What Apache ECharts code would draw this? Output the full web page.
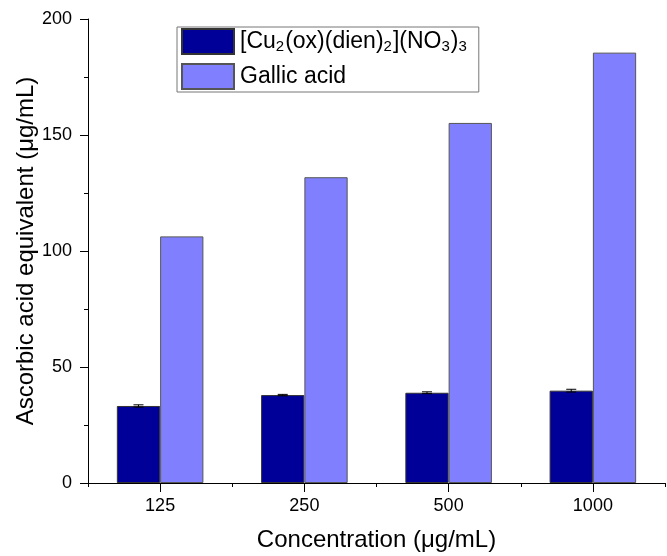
<!DOCTYPE html>
<html>
<head>
<meta charset="utf-8">
<script src="https://cdn.jsdelivr.net/npm/echarts@6/dist/echarts.min.js"></script>
<style>
html,body{margin:0;padding:0;background:#fff;}
#chart{width:667px;height:556px;}
</style>
</head>
<body>
<div id="chart"></div>
<script>
const categories = ['125', '250', '500', '1000'];
const cuName = '[Cu2(ox)(dien)2](NO3)3';
const gallicName = 'Gallic acid';
const cuValues = [33.2, 37.9, 38.9, 39.8];
const cuErrors = [0.5, 0.3, 0.4, 0.6];
const gallicValues = [106.3, 131.8, 155.2, 185.5];
const yTicks = [0, 50, 100, 150, 200];

const FONT = '"Liberation Sans", Arial, sans-serif';
const errData = cuValues.map((v, i) => [i, v, cuErrors[i]]);

const chart = echarts.init(document.getElementById('chart'), null, {renderer: 'canvas'});
chart.setOption({
  animation: false,
  backgroundColor: '#fff',
  textStyle: {fontFamily: FONT},
  grid: {left: 88, right: 2, top: 19, bottom: 73, containLabel: false, outerBoundsMode: 'none'},
  legend: {
    data: [cuName, gallicName],
    orient: 'vertical',
    left: 177,
    top: 27,
    padding: [1, 12, 2, 4],
    itemGap: 8,
    itemWidth: 52,
    itemHeight: 25,
    borderColor: '#777',
    borderWidth: 1,
    icon: 'rect',
    formatter: function (name) {
      if (name === cuName) {
        return '{n|[Cu}{s|2}{n|(ox)(dien)}{s|2}{n|](NO}{s|3}{n|)}{s|3}';
      }
      return '{n|' + name + '}';
    },
    textStyle: {
      fontFamily: FONT,
      color: '#000',
      rich: {
        n: {fontSize: 23, lineHeight: 26, fontFamily: FONT, color: '#000', padding: [0, 0, 0, 1]},
        s: {fontSize: 15, lineHeight: 8, verticalAlign: 'bottom', fontFamily: FONT, color: '#000'}
      }
    }
  },
  xAxis: [
    {
      type: 'category',
      data: categories,
      position: 'bottom',
      name: 'Concentration (μg/mL)',
      nameLocation: 'middle',
      nameGap: 45,
      nameMoveOverlap: false,
      nameTextStyle: {fontSize: 24, color: '#000', fontFamily: FONT},
      axisLine: {show: true, lineStyle: {color: '#000', width: 1}},
      axisTick: {show: true, alignWithLabel: true, length: 9, lineStyle: {color: '#000'}},
      axisLabel: {fontSize: 18, color: '#000', margin: 14, fontFamily: FONT},
      splitLine: {show: false}
    },
    {
      type: 'category',
      data: categories,
      position: 'bottom',
      axisLine: {show: false},
      axisTick: {show: true, alignWithLabel: false, length: 4, lineStyle: {color: '#000'}},
      axisLabel: {show: false},
      splitLine: {show: false}
    }
  ],
  yAxis: {
    type: 'value',
    min: yTicks[0],
    max: yTicks[yTicks.length - 1],
    interval: 50,
    name: 'Ascorbic acid equivalent (μg/mL)',
    nameLocation: 'middle',
    nameGap: 50,
    nameMoveOverlap: false,
    nameTextStyle: {fontSize: 24, color: '#000', fontFamily: FONT},
    axisLine: {show: true, lineStyle: {color: '#000', width: 1}},
    axisTick: {show: true, length: 8, lineStyle: {color: '#000'}},
    minorTick: {show: true, splitNumber: 2, length: 4, lineStyle: {color: '#000'}},
    axisLabel: {fontSize: 18, color: '#000', margin: 16, fontFamily: FONT},
    splitLine: {show: false}
  },
  series: [
    {
      name: cuName,
      type: 'bar',
      xAxisIndex: 0,
      data: cuValues,
      barWidth: '30%',
      barGap: '0%',
      itemStyle: {color: '#000099', borderColor: '#333', borderWidth: 1}
    },
    {
      name: gallicName,
      type: 'bar',
      xAxisIndex: 0,
      data: gallicValues,
      barWidth: '30%',
      barGap: '0%',
      itemStyle: {color: '#8080FF', borderColor: '#555', borderWidth: 1}
    },
    {
      type: 'custom',
      xAxisIndex: 0,
      data: errData,
      encode: {x: 0, y: 1},
      z: 10,
      renderItem: function (params, api) {
        const idx = api.value(0);
        const v = api.value(1);
        const e = api.value(2);
        const w = api.size([1, 0])[0] * 0.3;
        const top = api.coord([idx, v + e]);
        const bot = api.coord([idx, v - e]);
        const cx = top[0] - w / 2;
        const cap = 5;
        const style = {stroke: '#000', lineWidth: 1};
        return {
          type: 'group',
          children: [
            {type: 'line', shape: {x1: cx, y1: top[1], x2: cx, y2: bot[1]}, style: style},
            {type: 'line', shape: {x1: cx - cap, y1: top[1], x2: cx + cap, y2: top[1]}, style: style},
            {type: 'line', shape: {x1: cx - cap, y1: bot[1], x2: cx + cap, y2: bot[1]}, style: style}
          ]
        };
      }
    }
  ]
});
</script>
</body>
</html>
